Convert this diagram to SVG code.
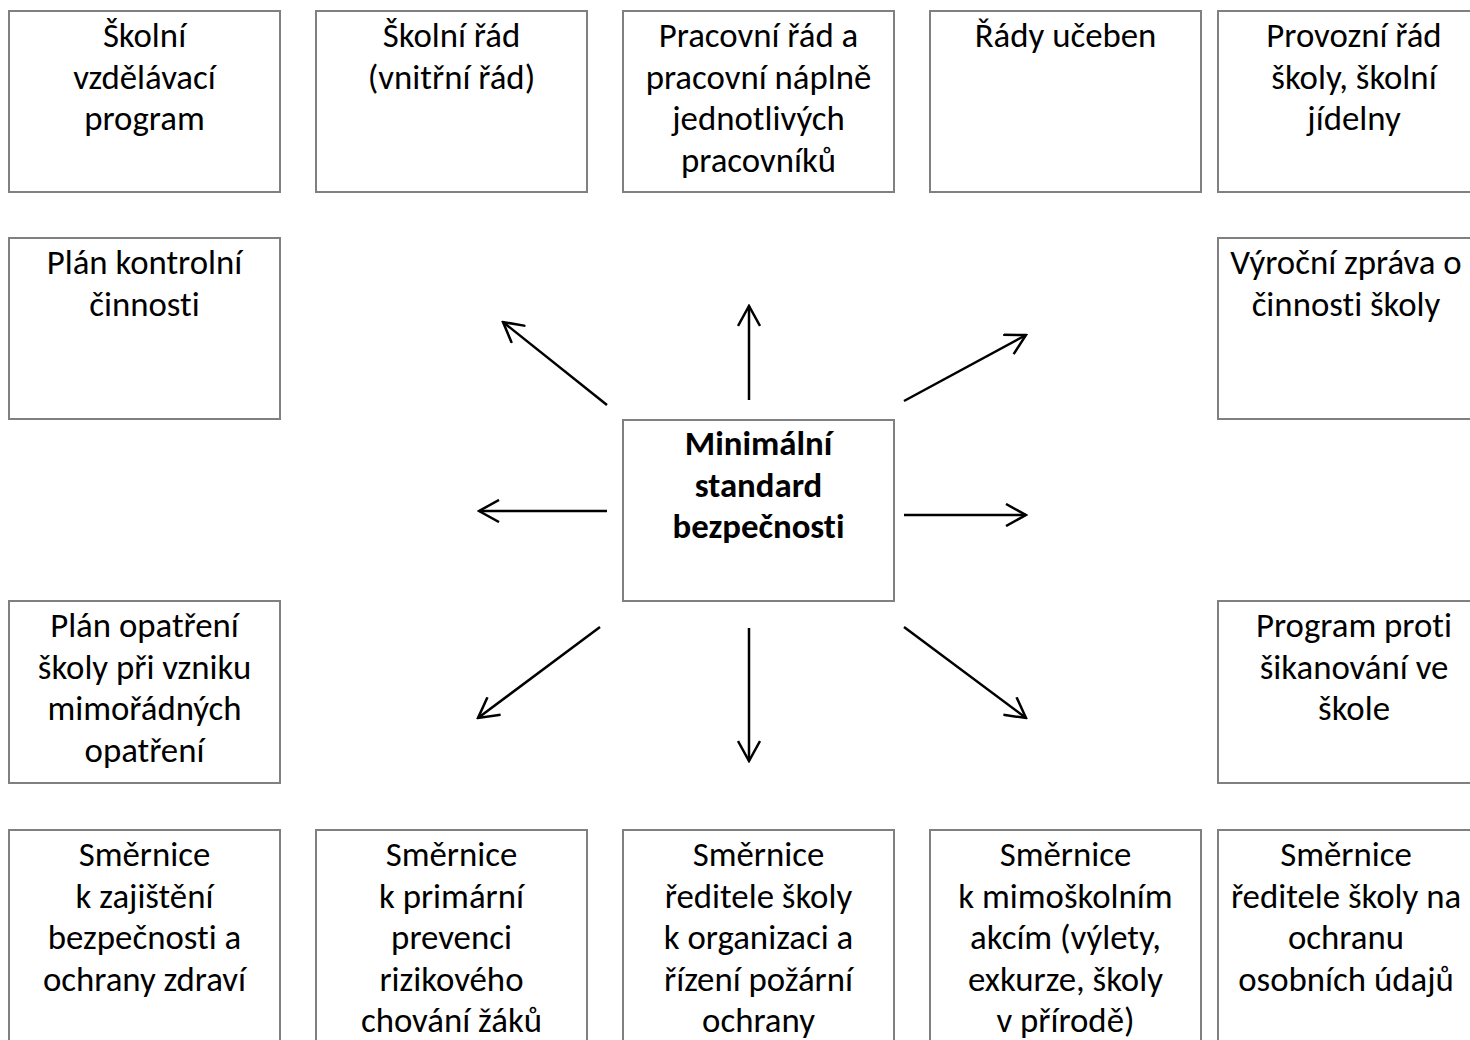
<svg xmlns="http://www.w3.org/2000/svg" width="1470" height="1040" viewBox="0 0 1470 1040">
<style>
.box{fill:#fff;stroke:#808080;stroke-width:2}
.t{font-family:Carlito,"Open Sans","Noto Sans",sans-serif;font-size:34.8px;fill:#000;text-anchor:middle;font-variant-ligatures:none}
.b{font-weight:bold}
.c{stroke:#000;stroke-width:2.5;fill:none}
</style>
<defs>
<marker id="ah" viewBox="0 0 24 24" refX="22" refY="12" markerWidth="24" markerHeight="24" markerUnits="userSpaceOnUse" orient="auto">
<path d="M2,1 L22,12 L2,23" fill="none" stroke="#000" stroke-width="2.5"/>
</marker>
</defs>
<rect width="1470" height="1040" fill="#fff"/>
<g id="n1"><rect class="box" x="9" y="11" width="271" height="181"/><text class="t"><tspan x="144.5" y="47">Školní</tspan><tspan x="144.5" y="88.5">vzdělávací</tspan><tspan x="144.5" y="130">program</tspan></text></g>
<g id="n2"><rect class="box" x="316" y="11" width="271" height="181"/><text class="t"><tspan x="451.5" y="47">Školní řád</tspan><tspan x="451.5" y="88.5">(vnitřní řád)</tspan></text></g>
<g id="n3"><rect class="box" x="623" y="11" width="271" height="181"/><text class="t"><tspan x="758.5" y="47">Pracovní řád a</tspan><tspan x="758.5" y="88.5">pracovní náplně</tspan><tspan x="758.5" y="130">jednotlivých</tspan><tspan x="758.5" y="171.5">pracovníků</tspan></text></g>
<g id="n4"><rect class="box" x="930" y="11" width="271" height="181"/><text class="t"><tspan x="1065.5" y="47">Řády učeben</tspan></text></g>
<g id="n5"><rect class="box" x="1218" y="11" width="271" height="181"/><text class="t"><tspan x="1354" y="47">Provozní řád</tspan><tspan x="1354" y="88.5">školy, školní</tspan><tspan x="1354" y="130">jídelny</tspan></text></g>
<g id="n6"><rect class="box" x="9" y="238" width="271" height="181"/><text class="t"><tspan x="144.5" y="274">Plán kontrolní</tspan><tspan x="144.5" y="315.5">činnosti</tspan></text></g>
<g id="n7"><rect class="box" x="1218" y="238" width="271" height="181"/><text class="t"><tspan x="1346" y="274">Výroční zpráva o</tspan><tspan x="1346" y="315.5">činnosti školy</tspan></text></g>
<g id="center"><rect class="box" x="623" y="420" width="271" height="181"/><text class="t b"><tspan x="758.5" y="455">Minimální</tspan><tspan x="758.5" y="496.5">standard</tspan><tspan x="758.5" y="538">bezpečnosti</tspan></text></g>
<g id="n8"><rect class="box" x="9" y="601" width="271" height="182"/><text class="t"><tspan x="144.5" y="637">Plán opatření</tspan><tspan x="144.5" y="678.5">školy při vzniku</tspan><tspan x="144.5" y="720">mimořádných</tspan><tspan x="144.5" y="761.5">opatření</tspan></text></g>
<g id="n9"><rect class="box" x="1218" y="601" width="271" height="182"/><text class="t"><tspan x="1354" y="637">Program proti</tspan><tspan x="1354" y="678.5">šikanování ve</tspan><tspan x="1354" y="720">škole</tspan></text></g>
<g id="n10"><rect class="box" x="9" y="830" width="271" height="230"/><text class="t"><tspan x="144.5" y="866">Směrnice</tspan><tspan x="144.5" y="907.5">k zajištění</tspan><tspan x="144.5" y="949">bezpečnosti a</tspan><tspan x="144.5" y="990.5">ochrany zdraví</tspan></text></g>
<g id="n11"><rect class="box" x="316" y="830" width="271" height="230"/><text class="t"><tspan x="451.5" y="866">Směrnice</tspan><tspan x="451.5" y="907.5">k primární</tspan><tspan x="451.5" y="949">prevenci</tspan><tspan x="451.5" y="990.5">rizikového</tspan><tspan x="451.5" y="1032">chování žáků</tspan></text></g>
<g id="n12"><rect class="box" x="623" y="830" width="271" height="230"/><text class="t"><tspan x="758.5" y="866">Směrnice</tspan><tspan x="758.5" y="907.5">ředitele školy</tspan><tspan x="758.5" y="949">k organizaci a</tspan><tspan x="758.5" y="990.5">řízení požární</tspan><tspan x="758.5" y="1032">ochrany</tspan></text></g>
<g id="n13"><rect class="box" x="930" y="830" width="271" height="230"/><text class="t"><tspan x="1065.5" y="866">Směrnice</tspan><tspan x="1065.5" y="907.5">k mimoškolním</tspan><tspan x="1065.5" y="949">akcím (výlety,</tspan><tspan x="1065.5" y="990.5">exkurze, školy</tspan><tspan x="1065.5" y="1032">v přírodě)</tspan></text></g>
<g id="n14"><rect class="box" x="1218" y="830" width="271" height="230"/><text class="t"><tspan x="1346" y="866">Směrnice</tspan><tspan x="1346" y="907.5">ředitele školy na</tspan><tspan x="1346" y="949">ochranu</tspan><tspan x="1346" y="990.5">osobních údajů</tspan></text></g>
<g id="connectors">
<line class="c" x1="749" y1="400" x2="749" y2="306" marker-end="url(#ah)"/>
<line class="c" x1="607" y1="405" x2="503" y2="322" marker-end="url(#ah)"/>
<line class="c" x1="904" y1="401" x2="1026" y2="335" marker-end="url(#ah)"/>
<line class="c" x1="607" y1="511" x2="479" y2="511" marker-end="url(#ah)"/>
<line class="c" x1="904" y1="515" x2="1026" y2="515" marker-end="url(#ah)"/>
<line class="c" x1="600" y1="627" x2="478" y2="718" marker-end="url(#ah)"/>
<line class="c" x1="749" y1="628" x2="749" y2="761" marker-end="url(#ah)"/>
<line class="c" x1="904" y1="627" x2="1026" y2="718" marker-end="url(#ah)"/>
</g>
</svg>
